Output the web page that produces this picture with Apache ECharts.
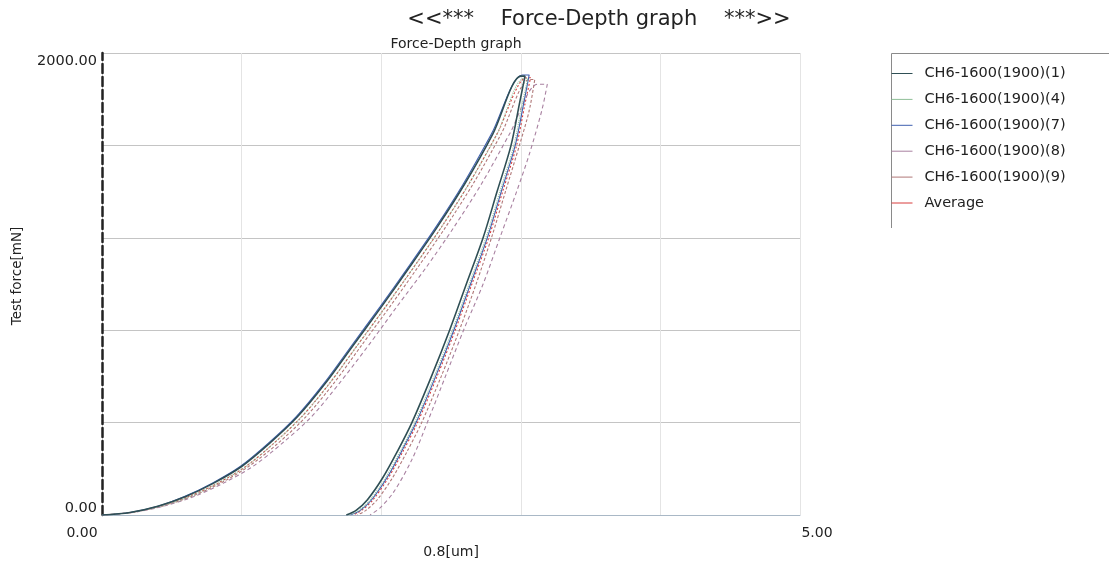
<!DOCTYPE html>
<html>
<head>
<meta charset="utf-8">
<script src="https://cdn.jsdelivr.net/npm/echarts@6/dist/echarts.min.js"></script>
<style>
html,body{margin:0;padding:0;background:#fff;}
#chart{width:1109px;height:564px;}
</style>
</head>
<body>
<div id="chart"></div>
<script>
// ---- data: [depth um, force mN] (loading, hold, unloading) ----
const seriesNames = ['CH6-1600(1900)(1)','CH6-1600(1900)(4)','CH6-1600(1900)(7)','CH6-1600(1900)(8)','CH6-1600(1900)(9)','Average'];

const ch1 = [[0,0],[0.2,11],[0.4,38],[0.6,80],[0.8,138],[1.0,210],[1.2,310],[1.4,425],[1.6,570],[1.8,735],[2.0,900],[2.2,1070],[2.4,1245],[2.6,1435],[2.8,1650],[3.0,1900],[3.03,1900],
  [2.99,1780],[2.93,1600],[2.83,1400],[2.73,1200],[2.61,1000],[2.49,800],[2.36,600],[2.22,400],[2.12,280],[2.01,160],[1.90,65],[1.82,20],[1.75,0]];
const ch4 = [[0,0],[0.21,11],[0.42,38],[0.63,80],[0.83,138],[1.03,210],[1.23,310],[1.43,425],[1.63,570],[1.83,735],[2.03,900],[2.23,1070],[2.43,1245],[2.63,1435],[2.83,1650],[3.02,1890],[3.05,1890],
  [3.01,1780],[2.95,1600],[2.85,1400],[2.75,1200],[2.63,1000],[2.51,800],[2.38,600],[2.24,400],[2.14,280],[2.03,160],[1.92,65],[1.84,20],[1.77,0]];
const ch7 = [[0,0],[0.2,11],[0.4,38],[0.59,80],[0.79,138],[0.99,210],[1.19,310],[1.39,425],[1.59,570],[1.79,735],[1.99,900],[2.19,1070],[2.39,1245],[2.59,1435],[2.79,1650],[3.01,1905],[3.06,1905],
  [3.02,1780],[2.96,1600],[2.86,1400],[2.76,1200],[2.64,1000],[2.52,800],[2.39,600],[2.25,400],[2.15,280],[2.04,160],[1.93,65],[1.85,20],[1.78,0]];
const ch8 = [[0,0],[0.22,11],[0.44,38],[0.66,80],[0.87,138],[1.08,210],[1.29,310],[1.5,425],[1.7,570],[1.91,735],[2.11,900],[2.32,1070],[2.52,1245],[2.72,1435],[2.92,1650],[3.12,1865],[3.19,1865],
  [3.15,1750],[3.06,1560],[2.97,1400],[2.85,1200],[2.73,1000],[2.59,800],[2.46,600],[2.33,400],[2.22,240],[2.09,100],[1.99,30],[1.92,0]];
const ch9 = [[0,0],[0.21,11],[0.43,38],[0.64,80],[0.85,138],[1.05,210],[1.26,310],[1.46,425],[1.66,570],[1.86,735],[2.06,900],[2.26,1070],[2.46,1245],[2.66,1435],[2.86,1650],[3.06,1885],[3.10,1885],
  [3.06,1750],[2.99,1600],[2.89,1400],[2.79,1200],[2.68,1000],[2.56,800],[2.43,600],[2.29,400],[2.19,280],[2.08,160],[1.97,65],[1.89,20],[1.83,0]];
const avg = [[0,0],[0.21,11],[0.42,38],[0.62,80],[0.83,138],[1.03,210],[1.23,310],[1.43,425],[1.63,570],[1.83,735],[2.03,900],[2.23,1070],[2.43,1245],[2.63,1435],[2.83,1650],[3.04,1893],[3.07,1893],
  [3.03,1780],[2.97,1600],[2.87,1400],[2.77,1200],[2.65,1000],[2.53,800],[2.40,600],[2.26,400],[2.16,280],[2.05,160],[1.94,65],[1.86,20],[1.80,0]];

const seriesData = [ch1, ch4, ch7, ch8, ch9, avg];
const seriesColors = ['#2f4f55','#8fbf98','#3f5fb0','#a880a0','#b07878','#d83c3c'];
const seriesDash = ['solid','dotted','solid',[4,3],[3,2],[2,2]];

const xTickValues = [0, 5];
const xTickTexts = ['0.00', '5.00'];
const yTickValues = [0, 2000];
const yTickTexts = ['0.00', '2000.00'];

const FONT = 'DejaVu Sans';
const chart = echarts.init(document.getElementById('chart'), null, {renderer:'canvas'});

const series = seriesNames.map((n, i) => ({
  name: n,
  type: 'line',
  data: seriesData[i],
  symbol: 'none',
  smooth: 0.3,
  lineStyle: {color: seriesColors[i], width: i === 0 ? 1.6 : 1.1, type: seriesDash[i]},
  itemStyle: {color: seriesColors[i]},
  z: 10 - i
}));

chart.setOption({
  animation: false,
  backgroundColor: '#fff',
  title: [
    {text: '<<***    Force-Depth graph    ***>>', left: 594, textAlign: 'center', top: 4,
     textStyle: {fontFamily: FONT, fontSize: 21, fontWeight: 'normal', color: '#222'}},
    {text: 'Force-Depth graph', left: 451, textAlign: 'center', top: 32,
     textStyle: {fontFamily: FONT, fontSize: 14, fontWeight: 'normal', color: '#222'}}
  ],
  legend: {
    orient: 'vertical', left: 891, top: 66, padding: 0,
    itemWidth: 21, itemHeight: 14, itemGap: 10.9,
    itemStyle: {opacity: 0},
    lineStyle: {type: 'solid', width: 1},
    textStyle: {fontFamily: FONT, fontSize: 14.5, color: '#222', padding: [0,0,0,7]},
    data: seriesNames
  },
  graphic: [{
    type: 'polyline', silent: true,
    shape: {points: [[891.5,228],[891.5,53.5],[1109,53.5]]},
    style: {stroke: '#8a8a8a', lineWidth: 1, fill: null}
  }],
  grid: {left: 102, right: 309, top: 53, bottom: 46, containLabel: false},
  xAxis: {
    type: 'value', min: 0, max: 5, interval: 1,
    name: '0.8[um]', nameLocation: 'middle', nameGap: 30,
    nameTextStyle: {fontFamily: FONT, fontSize: 14, color: '#222'},
    axisLine: {show: true, lineStyle: {color: '#a9b8c6', width: 1}},
    axisTick: {show: false},
    splitLine: {show: true, lineStyle: {color: '#e4e4e4', width: 1}},
    axisLabel: {
      fontFamily: FONT, fontSize: 14, color: '#222', margin: 11,
      formatter: v => { const k = xTickValues.indexOf(v); if (k < 0) return ''; return k === 0 ? '{l|' + xTickTexts[k] + '}' : '{r|' + xTickTexts[k] + '}'; },
      rich: {l: {fontFamily: FONT, fontSize: 14, color: '#222', padding: [0,40,0,0]},
             r: {fontFamily: FONT, fontSize: 14, color: '#222', padding: [0,0,0,34]}}
    }
  },
  yAxis: {
    type: 'value', min: 0, max: 2000, interval: 400,
    name: 'Test force[mN]', nameLocation: 'middle', nameGap: 78, nameRotate: 90,
    nameTextStyle: {fontFamily: FONT, fontSize: 13.5, color: '#222', padding: [0,0,0,16]},
    axisLine: {show: true, lineStyle: {color: '#222', width: 2.5, type: [9,4]}},
    axisTick: {show: false},
    splitLine: {show: true, lineStyle: {color: '#c4c4c4', width: 1}},
    axisLabel: {
      fontFamily: FONT, fontSize: 14.5, color: '#222', margin: 5,
      formatter: v => { const k = yTickValues.indexOf(v); if (k < 0) return ''; return k === 0 ? '{lo|' + yTickTexts[k] + '}' : '{hi|' + yTickTexts[k] + '}'; },
      rich: {lo: {fontFamily: FONT, fontSize: 14.5, color: '#222', padding: [0,0,13,0]},
             hi: {fontFamily: FONT, fontSize: 14.5, color: '#222', padding: [16,0,0,0]}}
    }
  },
  series: series
});
</script>
</body>
</html>
